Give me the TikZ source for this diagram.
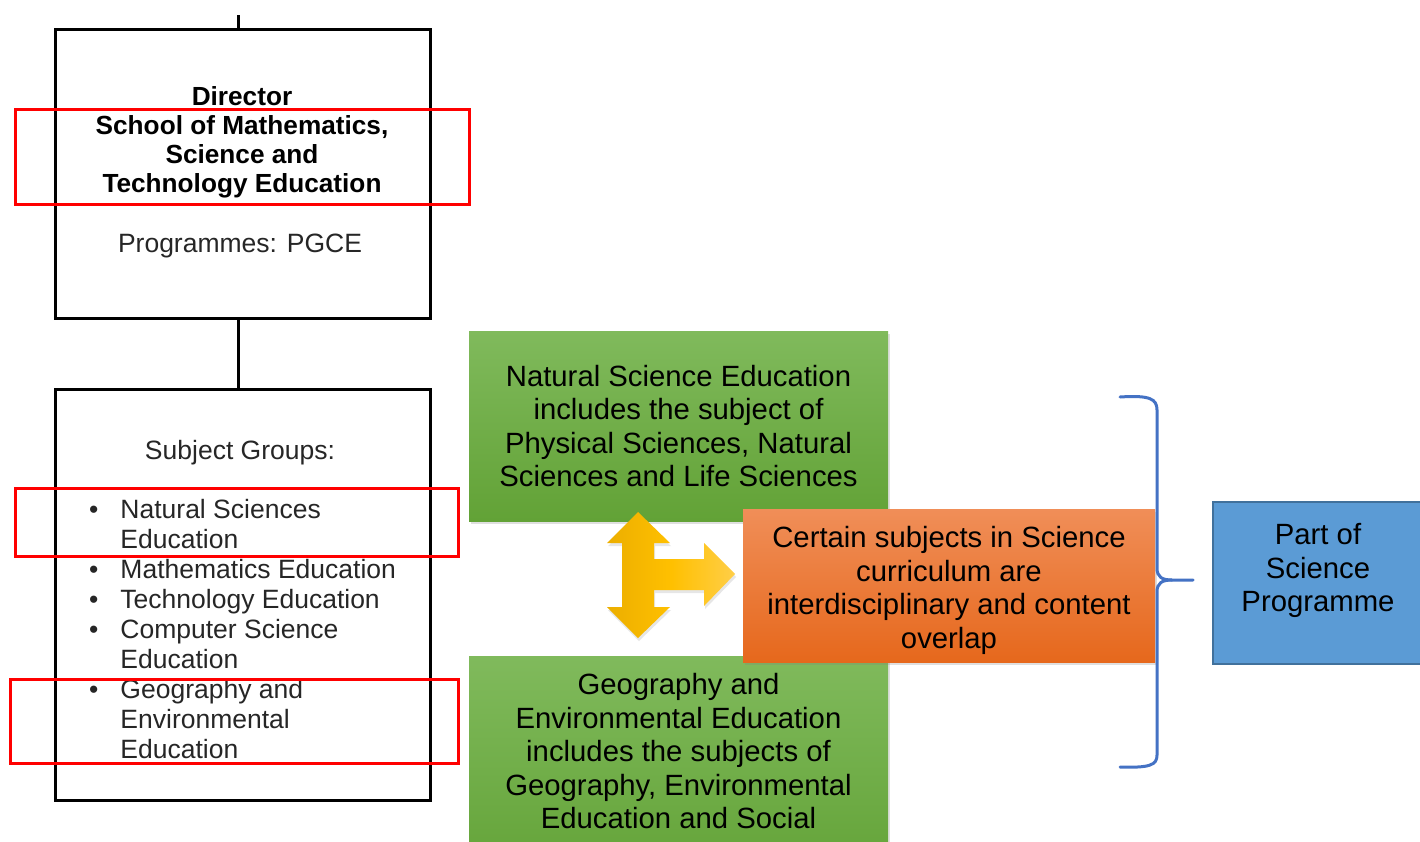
\documentclass[tikz,border=0pt]{standalone}
\usepackage{fontspec}
\setmainfont{Liberation Sans}
\usetikzlibrary{shadows}

\definecolor{greentop}{RGB}{128,186,92}
\definecolor{greenbot}{RGB}{98,162,54}
\definecolor{orangetop}{RGB}{240,142,88}
\definecolor{orangebot}{RGB}{230,104,28}
\definecolor{bluefill}{RGB}{91,155,213}
\definecolor{blueedge}{RGB}{65,113,156}
\definecolor{bracecol}{RGB}{68,114,196}
\definecolor{goldL}{RGB}{236,174,0}
\definecolor{goldM}{RGB}{255,192,0}
\definecolor{goldR}{RGB}{255,206,72}
\definecolor{softgray}{RGB}{38,38,38}

\begin{document}
\begin{tikzpicture}[x=1pt,y=-1pt,
  orgbox/.style={draw=black, line width=3pt, inner sep=0pt},
  markbox/.style={draw=red, line width=3pt},
  link/.style={draw=black, line width=3pt},
  headtext/.style={font=\bfseries\fontsize{26.2}{29}\selectfont, align=center, inner sep=0pt},
  plaintext/.style={font=\fontsize{26.5}{30}\selectfont, text=softgray, inner sep=0pt},
  bigtext/.style={font=\fontsize{29.3}{33.5}\selectfont, align=center, text=black, inner sep=0pt},
  softshadow/.style={drop shadow={shadow xshift=2pt, shadow yshift=-3pt, opacity=0.25}},
  greenbox/.style={top color=greentop, bottom color=greenbot, minimum width=419pt, inner sep=0pt, softshadow},
  orangebox/.style={top color=orangetop, bottom color=orangebot, minimum width=412pt, minimum height=153pt, inner sep=0pt, softshadow},
  bluebox/.style={fill=bluefill, draw=blueedge, line width=2.5pt, minimum width=210pt, minimum height=162pt, inner sep=0pt},
]
\useasboundingbox (0,0) rectangle (1420,841);

% organisation chart boxes
\coordinate (stub) at (238,15);
\node[orgbox, minimum width=375pt, minimum height=289pt] (dir) at (243,174) {};
\node[orgbox, minimum width=375pt, minimum height=411pt] (subj) at (243,595) {};
\draw[link] (stub) -- (stub |- dir.north);
\draw[link] ([xshift=-5pt]dir.south) -- ([xshift=-5pt]subj.north);

\node[headtext] (dirtext) at (242,142) {Director\\School of Mathematics,\\Science and\\Technology Education};
\node[plaintext] (progs) at (240,246) {Programmes: PGCE};
\node[plaintext] (groups) at (240,453) {Subject Groups:};
\node[plaintext, anchor=north west] (sublist) at (89,497) {%
\begin{tabular}{@{}l@{\hspace{22pt}}l@{}}
• & Natural Sciences\\
  & Education\\
• & Mathematics Education\\
• & Technology Education\\
• & Computer Science\\
  & Education\\
• & Geography and\\
  & Environmental\\
  & Education
\end{tabular}};

% highlight frames
\draw[markbox] (15,109) rectangle (469,204);
\draw[markbox] (15,488) rectangle (458,556);
\draw[markbox] (10,679) rectangle (458,763);

% subject area boxes
\node[greenbox, minimum height=190pt, bigtext] (nsed) at (678.5,426)
  {Natural Science Education\\includes the subject of\\Physical Sciences, Natural\\Sciences and Life Sciences};
\node[greenbox, minimum height=230pt] (geo) at (678.5,771) {};
\node[bigtext] (geotext) at (678.5,751.5) {Geography and\\Environmental Education\\includes the subjects of\\Geography, Environmental\\Education and Social};

% three-way arrow
\shade[left color=goldL, right color=goldR, middle color=goldM, drop shadow={shadow xshift=1pt, shadow yshift=-3pt, opacity=0.2}]
  (638,512) -- (670,543) -- (654,543) -- (654,559) -- (704,559) -- (704,543)
  -- (735,574) -- (704,606) -- (704,590) -- (654,590) -- (654,607) -- (670,607)
  -- (638,638) -- (607,607) -- (622,607) -- (622,543) -- (607,543) -- cycle;

\node[orangebox] (overlap) at (949,585.5) {};
\node[bigtext] (overlaptext) at (949,590.5)
  {Certain subjects in Science\\curriculum are\\interdisciplinary and content\\overlap};

% brace gathering the boxes
\draw[bracecol, line width=3pt, line cap=round]
  (1120,397) .. controls (1150,395) and (1157,399) .. (1157,410)
  -- (1157,568) .. controls (1157,577) and (1162,580) .. (1172,580) -- (1193,580);
\draw[bracecol, line width=3pt, line cap=round]
  (1172,580) .. controls (1162,580) and (1157,583) .. (1157,592)
  -- (1157,755) .. controls (1157,765) and (1150,768) .. (1120,767);

\node[bluebox] (prog) at (1318,583) {};
\node[bigtext] (progtext) at (1318,570.5) {Part of\\Science\\Programme};
\end{tikzpicture}
\end{document}
